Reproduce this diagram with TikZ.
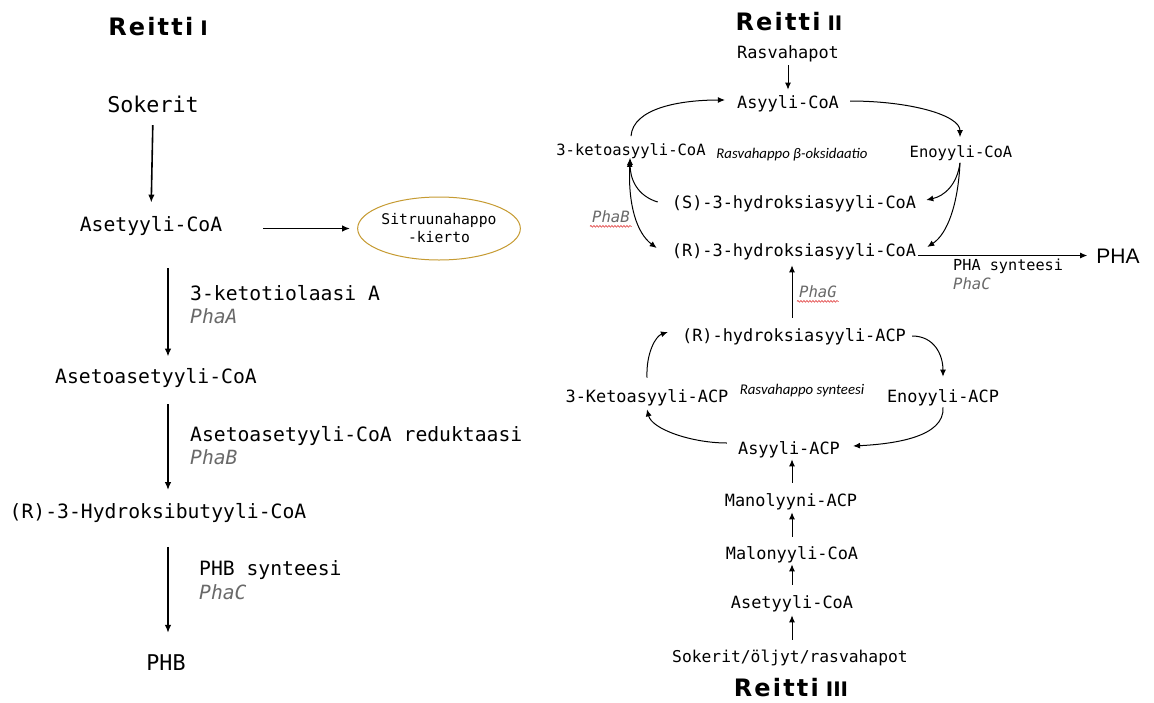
\documentclass[tikz,border=0pt]{standalone}
\usepackage{fontspec}
\usetikzlibrary{arrows.meta,shapes.geometric,decorations.pathmorphing}
\newfontfamily\monof{DejaVu Sans Mono}
\newfontfamily\titlef[LetterSpace=9]{DejaVu Sans}
\newfontfamily\numf{DejaVu Sans}
\newfontfamily\notef{Carlito}
\newfontfamily\phaf{Liberation Sans}
\definecolor{gold}{RGB}{198,155,50}
\definecolor{enzgray}{RGB}{105,105,105}
\definecolor{wavyred}{RGB}{225,60,60}
\tikzset{
  base/.style={inner sep=2pt, text depth=0pt},
  L/.style={base, text height=14.4pt, font=\monof\fontsize{19.7pt}{23pt}\selectfont},
  Lbig/.style={base, text height=15.8pt, font=\monof\fontsize{21.7pt}{25pt}\selectfont},
  R/.style={base, text height=12.3pt, font=\monof\fontsize{16.9pt}{20pt}\selectfont},
  Rs/.style={base, text height=11.3pt, font=\monof\fontsize{15.5pt}{18pt}\selectfont},
  Rt/.style={base, text height=11.1pt, font=\monof\fontsize{15.2pt}{18pt}\selectfont},
  enzL/.style={base, text height=14.4pt, text=enzgray, font=\monof\itshape\fontsize{19.6pt}{23pt}\selectfont},
  enzR/.style={base, text height=11.3pt, text=enzgray, font=\monof\itshape\fontsize{15.6pt}{18pt}\selectfont},
  note/.style={base, text height=10pt, font=\notef\itshape\fontsize{14.8pt}{17pt}\selectfont},
  ttl/.style={base, inner sep=1pt, text height=17.5pt, font=\titlef\bfseries\fontsize{24pt}{27pt}\selectfont},
  arrL/.style={-{Latex[length=8pt,width=6.5pt]}, line width=1.6pt},
  arrR/.style={-{Latex[length=7pt,width=6pt]}, line width=1pt},
  wavy/.style={wavyred, line width=0.6pt, decorate, decoration={snake, amplitude=0.9pt, segment length=3pt}},
}
\newcommand{\rn}[1]{\hspace{7pt}{\numf\bfseries\fontsize{20pt}{23pt}\selectfont #1}}
\begin{document}
\begin{tikzpicture}[x=1pt,y=-1pt]
\useasboundingbox (0,0) rectangle (1154,702);
\fill[white] (0,0) rectangle (1154,702);

% ---------------- Reitti I ----------------
\node[ttl] (t1) at (158,27) {Reitti\rn{I}};
\node[Lbig] (sok) at (153,105) {Sokerit};
\node[L] (ac1) at (151,224) {Asetyyli-CoA};
\node[ellipse, draw=gold, line width=1pt, minimum width=156pt, minimum height=63pt, inner sep=0pt,
      align=center, font=\monof\fontsize{14.7pt}{18pt}\selectfont] (cit) at (439,228.5) {Sitruunahappo\\-kierto};
\node[L] (aac) at (156,376) {Asetoasetyyli-CoA};
\node[L] (hb) at (158,511.5) {(R)-3-Hydroksibutyyli-CoA};
\node[Lbig] (phb) at (166,663) {PHB};

\node[L, anchor=west] (e1) at (188,293) {3-ketotiolaasi A};
\node[enzL, anchor=west] (e1g) at (188,316) {PhaA};
\node[L, anchor=west] (e2) at (188,434) {Asetoasetyyli-CoA reduktaasi};
\node[enzL, anchor=west] (e2g) at (188,457) {PhaB};
\node[L, anchor=west] (e3) at (197,568) {PHB synteesi};
\node[enzL, anchor=west] (e3g) at (197,592) {PhaC};

\coordinate (colL) at (168,0);
\draw[arrL, shorten <=10pt, shorten >=12pt] (sok.south) -- (ac1.north);
\draw[arrL, shorten <=39pt, shorten >=7pt] (ac1.east |- cit.west) -- (cit.west);
\draw[arrL, shorten <=35pt, shorten >=10pt] (colL |- ac1.south) -- (colL |- aac.north);
\draw[arrL, shorten <=19pt, shorten >=12pt] (colL |- aac.south) -- (colL |- hb.north);
\draw[arrL, shorten <=26pt, shorten >=20pt] (colL |- hb.south) -- (colL |- phb.north);

% ---------------- Reitti II ----------------
\node[ttl] (t2) at (789,22) {Reitti\rn{II}};
\node[R] (ras) at (788,52) {Rasvahapot};
\node[R] (acoa) at (788,102) {Asyyli-CoA};
\node[Rs] (k1) at (631,150) {3-ketoasyyli-CoA};
\node[note] (beta) at (792,153) {Rasvahappo β-oksidaatio};
\node[Rs] (en1) at (961,152) {Enoyyli-CoA};
\node[R] (s1) at (794,202) {(S)-3-hydroksiasyyli-CoA};
\node[R] (r1) at (794,250) {(R)-3-hydroksiasyyli-CoA};
\node[base, text height=15pt, font=\phaf\fontsize{21pt}{25pt}\selectfont] (pha) at (1118,255.5) {PHA};
\node[Rt, anchor=west] (phas) at (951,265) {PHA synteesi};
\node[enzR, anchor=west] (phac) at (951,284) {PhaC};
\node[enzR, anchor=west] (phab) at (590,217) {PhaB};
\draw[wavy] ([yshift=-1.5pt]phab.south west) -- ([yshift=-1.5pt]phab.south east);

\draw[arrR, shorten <=5pt, shorten >=4pt] (ras.south) -- (acoa.north);
\draw[arrR] ([yshift=6pt]k1.north) .. controls +(2,-28) and +(-45,0) .. ([xshift=-10pt,yshift=2pt]acoa.west);
\draw[arrR] ([xshift=9pt,yshift=1pt]acoa.east) .. controls +(60,0) and +(0,-22) .. ([xshift=-1pt,yshift=7pt]en1.north);
\draw[arrR] ([xshift=-1pt,yshift=-3pt]en1.south) .. controls +(-3,22) and +(18,-4) .. ([xshift=8pt,yshift=2pt]s1.east);
\draw[arrR] ([xshift=-1pt,yshift=-3pt]en1.south) .. controls +(-2,42) and +(20,-13) .. ([xshift=9pt,yshift=3pt]r1.east);
\draw[arrR] ([xshift=-12pt]s1.west) .. controls +(-20,-6) and +(0,22) .. ([xshift=-1pt]k1.south);
\draw[{Latex[length=7pt,width=6pt]}-{Latex[length=7pt,width=6pt]}, line width=1pt]
  ([xshift=-1pt,yshift=-2pt]k1.south) .. controls +(-2,45) and +(-20,-15) .. ([xshift=-13pt,yshift=2pt]r1.west);
\draw[arrR, shorten >=7pt] (r1.east |- pha.west) -- (pha.west);

% ---------------- Reitti III ----------------
\node[R] (racp) at (794,335) {(R)-hydroksiasyyli-ACP};
\node[R] (kacp) at (647,396) {3-Ketoasyyli-ACP};
\node[note] (synt) at (802,389) {Rasvahappo synteesi};
\node[R] (eacp) at (943,396) {Enoyyli-ACP};
\node[R] (aacp) at (789,448) {Asyyli-ACP};
\node[R] (mano) at (791,500) {Manolyyni-ACP};
\node[R] (malo) at (792,553) {Malonyyli-CoA};
\node[R] (acoa3) at (792,602) {Asetyyli-CoA};
\node[base, text height=11.9pt, font=\monof\fontsize{16.3pt}{19pt}\selectfont] (sok3) at (790,657) {Sokerit/öljyt/rasvahapot};
\node[ttl] (t3) at (791,688) {Reitti\rn{III}};
\node[enzR, anchor=west] (phag) at (797,292) {PhaG};
\draw[wavy] ([yshift=-1.5pt]phag.south west) -- ([yshift=-1.5pt]phag.south east);

\coordinate (colR) at (792,0);
\draw[arrR, shorten <=9pt, shorten >=7pt] (colR |- racp.north) -- (colR |- r1.south);
\draw[arrR] ([yshift=10pt]kacp.north) .. controls +(-1,-25) and +(-12,4) .. ([xshift=-12pt,yshift=3pt]racp.west);
\draw[arrR] ([xshift=4pt,yshift=-1pt]racp.east) .. controls +(22,0) and +(0,-22) .. ([yshift=11pt]eacp.north);
\draw[arrR] ([yshift=-3pt]eacp.south) .. controls +(2,30) and +(40,-2) .. ([xshift=11pt,yshift=2pt]aacp.east);
\draw[arrR] ([xshift=-9pt,yshift=5pt]aacp.west) .. controls +(-35,0) and +(5,20) .. ([yshift=-5pt]kacp.south);
\draw[arrR, shorten <=9pt, shorten >=3pt] (colR |- mano.north) -- (colR |- aacp.south);
\draw[arrR, shorten <=8pt, shorten >=4pt] (colR |- malo.north) -- (colR |- mano.south);
\draw[arrR, shorten <=9pt, shorten >=3pt] (colR |- acoa3.north) -- (colR |- malo.south);
\draw[arrR, shorten <=9pt, shorten >=5pt] (colR |- sok3.north) -- (colR |- acoa3.south);
\end{tikzpicture}
\end{document}
